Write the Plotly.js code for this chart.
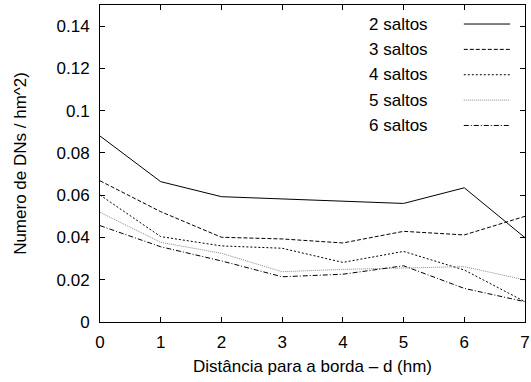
<!DOCTYPE html>
<html><head><meta charset="utf-8">
<script src="https://cdn.plot.ly/plotly-3.0.1.min.js"></script>
<style>html,body{margin:0;padding:0;background:#fff}#c{width:531px;height:382px}</style>
</head><body><div id="c"></div>
<script>
var xs = [0,1,2,3,4,5,6,7];
var names = ["2 saltos","3 saltos","4 saltos","5 saltos","6 saltos"];
var s2 = [0.088,0.0664,0.0593,0.0583,0.0572,0.0561,0.0635,0.0399];
var s3 = [0.0668,0.0522,0.0401,0.0393,0.0374,0.0429,0.0412,0.0500];
var s4 = [0.0601,0.0404,0.0360,0.0349,0.0282,0.0334,0.0246,0.0096];
var s5 = [0.0519,0.0377,0.0325,0.0238,0.0249,0.0257,0.0262,0.0199];
var s6 = [0.0456,0.0356,0.0289,0.0214,0.0226,0.0266,0.0159,0.0096];
var series = [s2,s3,s4,s5,s6];
var colors = ["#000","#000","#000","#8a8a8a","#000"];
var dashes = ["solid","4px,2px","2px,2px","1px,1px","5px,2px,1px,2px"];

var traces = series.map(function(s,i){
  return {x:xs,y:s,type:"scatter",mode:"lines",name:names[i],showlegend:false,
    line:{color:colors[i],width:1,dash:dashes[i]},hoverinfo:"skip"};
});

var font = {family:"Liberation Sans, Arial, sans-serif",size:17,color:"#000"};
var shapes=[], ann=[];
names.forEach(function(n,i){
  var yp = 0.940 - i*0.0800;
  shapes.push({type:"line",xref:"paper",yref:"paper",x0:0.856,x1:0.965,y0:yp,y1:yp,
    line:{color:colors[i],width:1,dash:dashes[i]}});
  ann.push({xref:"paper",yref:"paper",x:0.776,y:yp,xanchor:"right",yanchor:"middle",
    text:n,showarrow:false,font:font});
});

var layout = {
  width:531,height:382,
  margin:{l:100,r:6,t:5,b:60},
  paper_bgcolor:"#fff",plot_bgcolor:"#fff",
  font:font,
  xaxis:{range:[0,7],tickvals:xs,ticks:"inside",ticklen:5,tickcolor:"#000",mirror:"allticks",
    showline:true,linecolor:"#000",linewidth:1,showgrid:false,zeroline:false,
    title:{text:"Distância para a borda – d (hm)",font:font,standoff:8},
    tickfont:font,ticklabelstandoff:5},
  yaxis:{range:[0,0.15],tickvals:[0,0.02,0.04,0.06,0.08,0.1,0.12,0.14],
    ticktext:["0","0.02","0.04","0.06","0.08","0.1","0.12","0.14"],
    ticks:"inside",ticklen:5,tickcolor:"#000",mirror:"allticks",
    showline:true,linecolor:"#000",linewidth:1,showgrid:false,zeroline:false,
    title:{text:"Numero de DNs / hm^2)",font:font,standoff:25},
    tickfont:font,ticklabelstandoff:6},
  shapes:shapes,annotations:ann,showlegend:false
};
Plotly.newPlot("c",traces,layout,{staticPlot:true,displayModeBar:false});
</script></body></html>
